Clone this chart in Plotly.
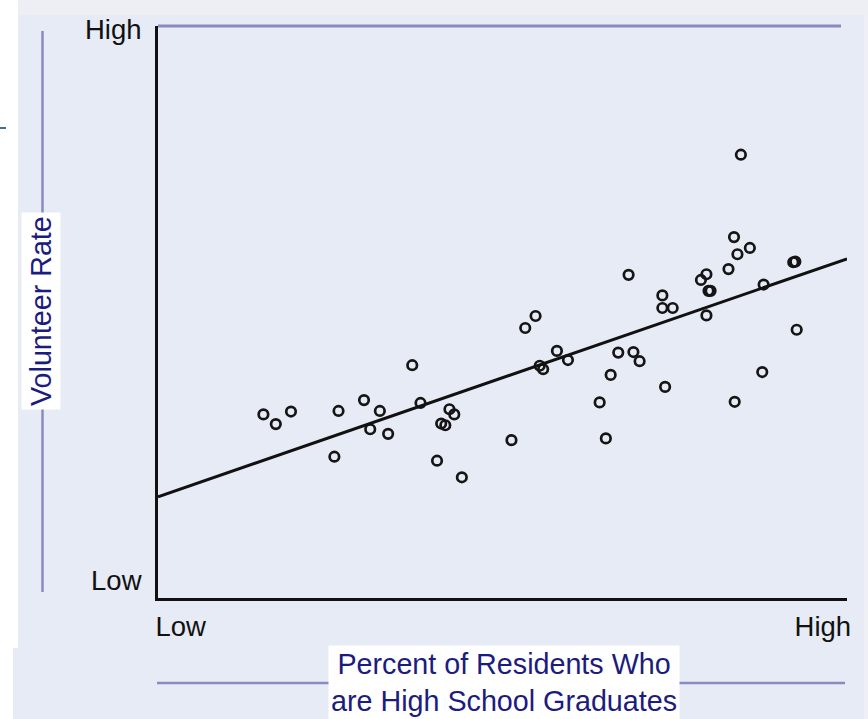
import plotly.graph_objects as go

# ---- data (axis units 0..100) ----
grad_pct = [15.3, 17.1, 19.3, 25.6, 26.2, 29.9, 30.8, 32.2, 33.4, 36.9,
            38.1, 40.5, 41.1, 41.7, 42.3, 43.0, 44.1, 51.3, 53.3, 54.8,
            55.4, 55.9, 57.9, 59.5, 64.1, 65.0, 65.7, 66.8, 68.3, 69.0,
            69.9, 73.2, 73.2, 73.6, 74.7, 78.8, 79.6, 79.6, 79.9, 80.2,
            82.8, 83.6, 83.7, 84.1, 84.6, 85.9, 87.7, 87.9, 92.2, 92.5, 92.7]
volunteer = [32.1, 30.4, 32.6, 24.7, 32.7, 34.6, 29.5, 32.7, 28.7, 40.7,
             34.1, 24.0, 30.5, 30.2, 33.0, 32.1, 21.1, 27.6, 47.2, 49.3,
             40.6, 40.0, 43.2, 41.6, 34.2, 27.9, 39.0, 42.9, 56.5, 43.0,
             41.4, 52.9, 50.7, 36.9, 50.7, 55.6, 56.6, 49.4, 53.7, 53.7,
             57.5, 63.1, 34.3, 60.1, 77.5, 61.2, 39.5, 54.8, 58.7, 58.8, 46.9]
trend_x = [0, 100]
trend_y = [17.7, 59.3]

x_tick_vals = [3.3, 96.5]
x_tick_text = ["Low", "High"]
y_tick_vals = [3.1, 99.4]
y_tick_text = ["Low", "High"]

x_title = "Percent of Residents Who<br>are High School Graduates"
y_title = "Volunteer Rate"

# ---- layout geometry ----
W, H = 868, 719
L, R, T, B = 158, 21, 26, 121
PW, PH = W - L - R, H - T - B


def px(x):
    return (x - L) / PW


def py(y):
    return (H - B - y) / PH


BG = "#E6EBF5"
DECO = "#8A8AC0"
NAVY = "#1C1C7E"
FONT = "Liberation Sans, Arial, sans-serif"

fig = go.Figure()
fig.add_trace(go.Scatter(
    x=grad_pct, y=volunteer, mode="markers",
    marker=dict(symbol="circle-open", size=9.5, color="#151515",
                line=dict(width=2.7, color="#151515")),
    showlegend=False, hoverinfo="skip"))
fig.add_trace(go.Scatter(
    x=trend_x, y=trend_y, mode="lines",
    line=dict(color="#111111", width=3), showlegend=False, hoverinfo="skip"))

shapes = [
    # page strips
    dict(type="rect", xref="paper", yref="paper", x0=px(0), x1=px(W), y0=py(0), y1=py(15),
         fillcolor="#EDEFF4", line_width=0, layer="below"),
    dict(type="rect", xref="paper", yref="paper", x0=px(0), x1=px(18), y0=py(0), y1=py(648),
         fillcolor="#FFFFFF", line_width=0, layer="below"),
    dict(type="rect", xref="paper", yref="paper", x0=px(0), x1=px(13), y0=py(648), y1=py(H),
         fillcolor="#FFFFFF", line_width=0, layer="below"),
    dict(type="rect", xref="paper", yref="paper", x0=px(864), x1=px(W), y0=py(15), y1=py(H),
         fillcolor="#EEF0F5", line_width=0, layer="below"),
    # top frame line
    dict(type="line", xref="paper", yref="paper", x0=px(158), x1=px(841), y0=py(26), y1=py(26),
         line=dict(color=DECO, width=3)),
    # y title decoration line
    dict(type="line", xref="paper", yref="paper", x0=px(42.5), x1=px(42.5), y0=py(31), y1=py(592),
         line=dict(color=DECO, width=2.5)),
    # x title decoration line
    dict(type="line", xref="paper", yref="paper", x0=px(157), x1=px(845), y0=py(683), y1=py(683),
         line=dict(color=DECO, width=2.5)),
    # small mark on left edge
    dict(type="line", xref="paper", yref="paper", x0=px(0), x1=px(6), y0=py(128), y1=py(128),
         line=dict(color="#4A6A8A", width=2)),
]

annotations = [
    dict(text=y_title, xref="paper", yref="paper", x=px(41), y=py(311),
         showarrow=False, textangle=-90, font=dict(family=FONT, size=28.7, color=NAVY),
         bgcolor="#FFFFFF", borderpad=3, xanchor="center", yanchor="middle"),
    dict(text=x_title, xref="paper", yref="paper", x=px(504), y=py(682),
         showarrow=False, font=dict(family=FONT, size=28.7, color=NAVY),
         bgcolor="#FFFFFF", borderpad=2, xanchor="center", yanchor="middle"),
]

fig.update_layout(
    width=W, height=H,
    margin=dict(l=L, r=R, t=T, b=B),
    paper_bgcolor=BG, plot_bgcolor=BG,
    font=dict(family=FONT, color="#111111"),
    shapes=shapes, annotations=annotations,
    xaxis=dict(range=[0, 100], showgrid=False, zeroline=False, showline=True,
               linecolor="#111111", linewidth=3, ticks="",
               tickvals=x_tick_vals, ticktext=x_tick_text,
               tickfont=dict(family=FONT, size=27.5, color="#111111"),
               ticklabelstandoff=2, fixedrange=True),
    yaxis=dict(range=[0, 100], showgrid=False, zeroline=False, showline=True,
               linecolor="#111111", linewidth=3, ticks="",
               tickvals=y_tick_vals, ticktext=y_tick_text,
               tickfont=dict(family=FONT, size=27.5, color="#111111"),
               ticklabelstandoff=8, fixedrange=True),
)

fig.write_html("out.html", config={"displayModeBar": False},
               post_script="document.body.style.margin='0';"
                           "document.body.style.overflow='hidden';")
